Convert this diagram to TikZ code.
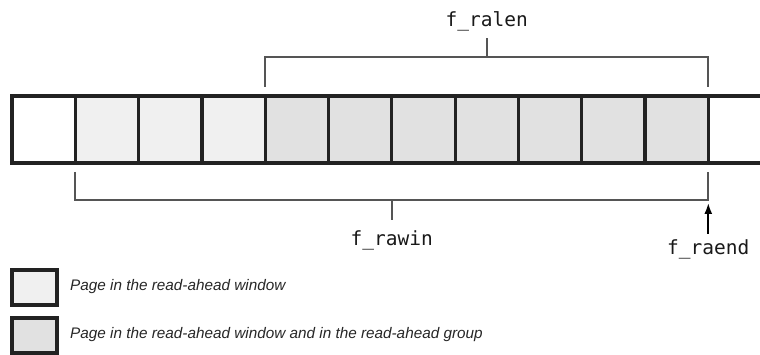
\documentclass[tikz,border=0pt]{standalone}
\usepackage{fontspec}
\setmainfont{Liberation Sans}
\setmonofont{DejaVu Sans Mono}
\usetikzlibrary{arrows.meta,calc}
\definecolor{lightg}{HTML}{F0F0F0}
\definecolor{midg}{HTML}{E1E1E1}
\definecolor{edge}{HTML}{222222}
\definecolor{brk}{HTML}{555555}
\tikzset{
  cell/.style={draw=edge, line width=3.2pt, minimum width=63.3pt, minimum height=67pt, inner sep=0pt, outer sep=0pt},
  bracket/.style={draw=brk, line width=2pt},
  lbl/.style={font=\ttfamily\fontsize{19.5}{22}\selectfont, text=black!90, inner sep=0pt},
  legtxt/.style={font=\itshape\fontsize{15.3}{17}\selectfont, text=black!85, inner sep=0pt, anchor=west},
  legbox/.style={draw=edge, line width=3.2pt, minimum width=45pt, minimum height=35pt, inner sep=0pt}
}
\begin{document}
\begin{tikzpicture}[x=1pt,y=-1pt]
\useasboundingbox (0,0) rectangle (760,355);
\clip (0,0) rectangle (760,355);
% cells
\foreach \i in {0,...,11}{
  \pgfmathsetmacro{\cx}{12+63.3*\i+31.65}
  \ifnum\i=0 \def\fc{white}\else\ifnum\i<4 \def\fc{lightg}\else\ifnum\i<11 \def\fc{midg}\else\def\fc{white}\fi\fi\fi
  \node[cell, fill=\fc] (c\i) at (\cx,129.5) {};
}
% top bracket f_ralen
\coordinate (ta) at ($(c4.north west)+(0,-9)$);
\coordinate (tb) at ($(c10.north east)+(0,-9)$);
\coordinate (tah) at (ta |- 0,57);
\coordinate (tbh) at (tb |- 0,57);
\coordinate (tm) at ($(tah)!0.5!(tbh)$);
\node[lbl] (ralen) at (tm |- 0,21) {f\_ralen};
\draw[bracket] (ta) -- (tah) -- (tbh) -- (tb);
\draw[bracket] (tm) -- (tm |- 0,38);
% bottom bracket f_rawin
\coordinate (ba) at ($(c1.south west)+(0,9)$);
\coordinate (bb) at ($(c10.south east)+(0,9)$);
\coordinate (bah) at (ba |- 0,200);
\coordinate (bbh) at (bb |- 0,200);
\coordinate (bm) at ($(bah)!0.5!(bbh)$);
\node[lbl] (rawin) at (bm |- 0,240) {f\_rawin};
\draw[bracket] (ba) -- (bah) -- (bbh) -- (bb);
\draw[bracket] (bm) -- (bm |- 0,220);
% f_raend arrow
\node[lbl] (raend) at (bbh |- 0,249) {f\_raend};
\draw[draw=black, line width=1.8pt, -{Latex[length=11pt,width=8pt]}] (raend.north |- 0,234) -- (bbh |- 0,203);
% legend
\node[legbox, fill=lightg] (l1) at (34.5,287.5) {};
\node[legbox, fill=midg] (l2) at (34.5,335.5) {};
\node[legtxt] (t1) at (70,287) {Page in the read-ahead window};
\node[legtxt] (t2) at (70,335) {Page in the read-ahead window and in the read-ahead group};
\end{tikzpicture}
\end{document}
